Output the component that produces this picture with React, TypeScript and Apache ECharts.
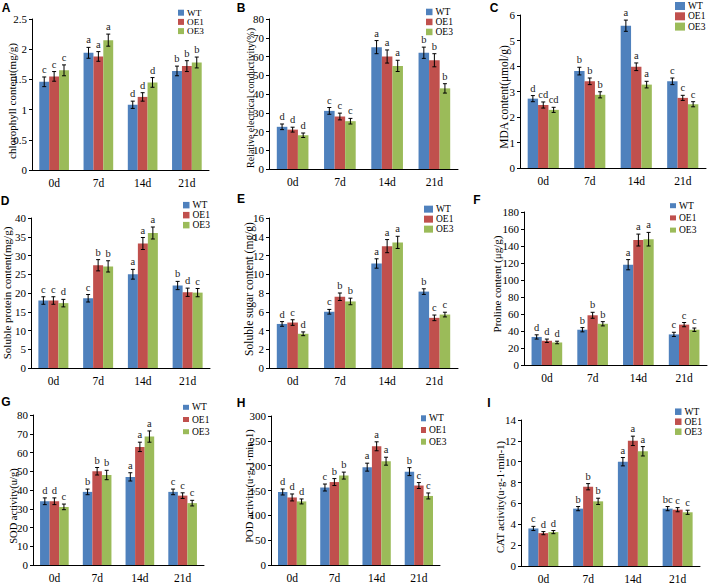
import React, { useEffect, useRef } from "react";
import * as echarts from "echarts";

const categories = ["0d", "7d", "14d", "21d"];
const lines = ["WT", "OE1", "OE3"];
const colors = ["#4F81BD", "#C0504D", "#9BBB59"];

// A chlorophyll
const chlWT = [1.46, 1.94, 1.08, 1.64];
const chlOE1 = [1.55, 1.88, 1.21, 1.72];
const chlOE3 = [1.65, 2.15, 1.45, 1.78];
const chlErr = [[0.08, 0.09, 0.06, 0.08], [0.08, 0.08, 0.07, 0.09], [0.09, 0.1, 0.08, 0.09]];
const chlSig = [["c", "a", "d", "b"], ["c", "a", "d", "b"], ["c", "a", "d", "b"]];

// B conductivity
const recWT = [22.5, 31, 65, 62];
const recOE1 = [21, 28, 60, 58];
const recOE3 = [18, 25.5, 55, 43];
const recErr = [[1.5, 1.8, 3.5, 3], [1.3, 1.8, 3.5, 3.5], [1.2, 1.5, 3, 2.5]];
const recSig = [["d", "c", "a", "b"], ["d", "c", "a", "b"], ["d", "c", "a", "b"]];

// C MDA
const mdaWT = [2.72, 3.8, 5.58, 3.4];
const mdaOE1 = [2.47, 3.4, 3.97, 2.75];
const mdaOE3 = [2.28, 2.87, 3.27, 2.5];
const mdaErr = [[0.12, 0.15, 0.22, 0.13], [0.12, 0.13, 0.15, 0.1], [0.1, 0.12, 0.13, 0.1]];
const mdaSig = [["d", "b", "a", "c"], ["cd", "b", "a", "c"], ["cd", "b", "a", "c"]];

// D soluble protein
const protWT = [18, 18.6, 25, 22];
const protOE1 = [18, 27.4, 33.2, 20.2];
const protOE3 = [17.3, 27.1, 36, 20.1];
const protErr = [[1, 1, 1.3, 1.1], [1, 1.5, 1.6, 1.1], [1, 1.5, 1.6, 1.1]];
const protSig = [["c", "c", "a", "b"], ["c", "b", "a", "d"], ["d", "b", "a", "c"]];

// E soluble sugar
const sugWT = [4.7, 6.0, 11.15, 8.15];
const sugOE1 = [4.85, 7.6, 13.0, 5.35];
const sugOE3 = [3.65, 7.1, 13.4, 5.7];
const sugErr = [[0.25, 0.25, 0.5, 0.3], [0.3, 0.4, 0.7, 0.3], [0.2, 0.35, 0.65, 0.25]];
const sugSig = [["d", "c", "a", "b"], ["c", "b", "a", "c"], ["d", "b", "a", "c"]];

// F proline
const proWT = [33, 41.5, 118, 36];
const proOE1 = [28.5, 58.5, 147, 47.5];
const proOE3 = [26.5, 48.5, 148, 41.5];
const proErr = [[2.5, 2.5, 6, 2.5], [2, 3.5, 7, 2.5], [1.5, 2.5, 8, 2]];
const proSig = [["d", "b", "a", "c"], ["d", "b", "a", "c"], ["d", "b", "a", "c"]];

// G SOD
const sodWT = [34, 39, 47, 39];
const sodOE1 = [34, 50, 63, 37];
const sodOE3 = [31, 48, 68.5, 33];
const sodErr = [[1.8, 1.5, 2.2, 1.5], [1.8, 2, 2.5, 1.5], [1.5, 2.5, 3, 1.5]];
const sodSig = [["d", "b", "a", "c"], ["d", "b", "a", "c"], ["c", "b", "a", "c"]];

// H POD
const podWT = [147, 156, 197, 188];
const podOE1 = [136, 167, 239, 160];
const podOE3 = [128, 180, 209, 139];
const podErr = [[6, 7, 8, 8], [7, 7, 9, 6], [5, 7, 8, 6]];
const podSig = [["d", "c", "a", "b"], ["d", "b", "a", "c"], ["d", "b", "a", "c"]];

// I CAT
const catWT = [3.6, 5.5, 10, 5.5];
const catOE1 = [3.15, 7.6, 12, 5.4];
const catOE3 = [3.25, 6.2, 11, 5.15];
const catErr = [[0.2, 0.2, 0.4, 0.2], [0.15, 0.3, 0.45, 0.2], [0.15, 0.3, 0.45, 0.2]];
const catSig = [["c", "b", "a", "bc"], ["d", "b", "a", "c"], ["d", "b", "a", "c"]];

const SERIF = "Liberation Serif";
const SANS = "Liberation Sans";
const GAP = 0.33;

const panels = [
  { tag: "A", tagPos: [6, 8], yName: "chlorophyll content(mg/g)", yNamePos: [12, 101], yNameSize: 11,
    values: [chlWT, chlOE1, chlOE3], errs: chlErr, sig: chlSig, max: 2.5, interval: 0.5,
    grid: { left: 32, top: 19, width: 177, height: 151 },
    legend: { left: 178, row0: 12.7, spacing: 9.2, w: 6, h: 6 } },
  { tag: "B", tagPos: [241, 8], yName: "Relative electrical conductivity(%)", yNamePos: [250, 98], yNameSize: 10,
    values: [recWT, recOE1, recOE3], errs: recErr, sig: recSig, max: 80, interval: 10,
    grid: { left: 269, top: 19, width: 189, height: 150 },
    legend: { left: 426, row0: 11.7, spacing: 9.5, w: 6.5, h: 6.5 } },
  { tag: "C", tagPos: [494, 8], yName: "MDA content(μmol/g)", yNamePos: [504, 97], yNameSize: 11.5,
    values: [mdaWT, mdaOE1, mdaOE3], errs: mdaErr, sig: mdaSig, max: 6, interval: 1,
    grid: { left: 520, top: 15, width: 186, height: 153 },
    legend: { left: 675, row0: 6, spacing: 10.3, w: 10, h: 8 } },
  { tag: "D", tagPos: [5, 201], yName: "Soluble protein content(mg/g)", yNamePos: [7, 293], yNameSize: 11,
    values: [protWT, protOE1, protOE3], errs: protErr, sig: protSig, max: 40, interval: 5,
    grid: { left: 31, top: 218, width: 179, height: 150 },
    legend: { left: 183, row0: 205, spacing: 9.7, w: 6.5, h: 6.5 } },
  { tag: "E", tagPos: [241, 199], yName: "Soluble sugar content (mg/g)", yNamePos: [249, 289], yNameSize: 11.5,
    values: [sugWT, sugOE1, sugOE3], errs: sugErr, sig: sugSig, max: 16, interval: 2,
    grid: { left: 269, top: 218, width: 189, height: 150 },
    legend: { left: 424, row0: 209, spacing: 9.7, w: 9, h: 7 } },
  { tag: "F", tagPos: [477, 200], yName: "Proline content (μg/g)", yNamePos: [497, 284], yNameSize: 11,
    values: [proWT, proOE1, proOE3], errs: proErr, sig: proSig, max: 180, interval: 20,
    grid: { left: 524, top: 212, width: 183, height: 153 },
    legend: { left: 670, row0: 205.7, spacing: 12.2, w: 6, h: 5 } },
  { tag: "G", tagPos: [6, 402], yName: "SOD activity(u/g)", yNamePos: [13, 506], yNameSize: 10.5,
    values: [sodWT, sodOE1, sodOE3], errs: sodErr, sig: sodSig, max: 80, interval: 10,
    grid: { left: 33, top: 415, width: 171, height: 150 },
    legend: { left: 183, row0: 407.3, spacing: 12.2, w: 6, h: 5 } },
  { tag: "H", tagPos: [241, 403], yName: "POD activity(u·g-1·min-1)", yNamePos: [249, 486], yNameSize: 10.5,
    values: [podWT, podOE1, podOE3], errs: podErr, sig: podSig, max: 300, interval: 50,
    grid: { left: 271, top: 416, width: 169, height: 149 },
    legend: { left: 421, row0: 418.3, spacing: 11.7, w: 5, h: 6 } },
  { tag: "I", tagPos: [489, 403], yName: "CAT activity(u·g-1·min-1)", yNamePos: [500, 497], yNameSize: 10.5,
    values: [catWT, catOE1, catOE3], errs: catErr, sig: catSig, max: 14, interval: 2,
    grid: { left: 521, top: 420, width: 179, height: 148 },
    legend: { left: 675, row0: 411.7, spacing: 10, w: 6.5, h: 6.5 } },
];

function buildOption() {
  const grid: any[] = [];
  const xAxis: any[] = [];
  const yAxis: any[] = [];
  const legend: any[] = [];
  const series: any[] = [];
  const graphic: any[] = [];

  panels.forEach((p, i) => {
    grid.push({ ...p.grid, containLabel: false });
    xAxis.push({
      type: "category", gridIndex: i, data: categories,
      axisLine: { lineStyle: { color: "#000", width: 1 } },
      axisTick: { show: true, inside: true, alignWithLabel: true, length: 3, lineStyle: { color: "#000" } },
      axisLabel: { fontFamily: SERIF, fontSize: 11.5, fontWeight: "normal", color: "#000", margin: 7 },
    });
    yAxis.push({
      type: "value", gridIndex: i, min: 0, max: p.max, interval: p.interval,
      axisLine: { show: true, lineStyle: { color: "#000", width: 1 } },
      axisTick: { show: true, length: 3, lineStyle: { color: "#000" } },
      axisLabel: { fontFamily: SERIF, fontSize: 11, fontWeight: "normal", color: "#000", margin: 5 },
      splitLine: { show: false },
    });
    const rowH = Math.min(10, Math.floor(p.legend.spacing * 10) / 10);
    const itemH = Math.min(p.legend.h, rowH);
    legend.push({
      data: lines, orient: "vertical", left: p.legend.left, top: p.legend.row0 - rowH / 2,
      itemWidth: p.legend.w, itemHeight: itemH, itemGap: Math.max(0, p.legend.spacing - rowH),
      icon: "rect", selectedMode: false, padding: 0,
      textStyle: {
        fontFamily: SERIF, fontSize: Math.min(9.5, rowH), lineHeight: rowH,
        color: "#000", padding: [0, 0, 0, -2],
      },
    });
    lines.forEach((name, s) => {
      series.push({
        type: "bar", name, xAxisIndex: i, yAxisIndex: i, data: p.values[s],
        barGap: "0%", barCategoryGap: "33%", silent: true,
        itemStyle: { color: colors[s] },
      });
    });
    const flat: number[][] = [];
    const flatSig: string[] = [];
    for (let c = 0; c < categories.length; c++) {
      for (let s = 0; s < 3; s++) {
        flat.push([c, p.values[s][c], s, p.errs[s][c]]);
        flatSig.push(p.sig[s][c]);
      }
    }
    series.push({
      type: "custom", xAxisIndex: i, yAxisIndex: i, data: flat, silent: true, z: 10,
      encode: { x: 0, y: 1 },
      renderItem: (params: any, api: any) => {
        const c = api.value(0);
        const v = api.value(1);
        const s = api.value(2);
        const e = api.value(3);
        const band = api.size([1, 0])[0];
        const bw = (band * (1 - GAP)) / 3;
        const base = api.coord([c, v]);
        const x = base[0] + (s - 1) * bw;
        const yt = api.coord([c, v + e])[1];
        const yb = api.coord([c, v - e])[1];
        const cap = 2;
        const ls = { stroke: "#000", lineWidth: 1 };
        const txt = flatSig[params.dataIndex];
        return {
          type: "group",
          children: [
            { type: "line", shape: { x1: x, y1: yt, x2: x, y2: yb }, style: ls },
            { type: "line", shape: { x1: x - cap, y1: yt, x2: x + cap, y2: yt }, style: ls },
            { type: "line", shape: { x1: x - cap, y1: yb, x2: x + cap, y2: yb }, style: ls },
            {
              type: "text",
              style: {
                text: txt, x, y: yt - 2,
                textAlign: "center", align: "center",
                textVerticalAlign: "bottom", verticalAlign: "bottom",
                font: `10.5px "${SERIF}"`, fill: "#222",
              },
            },
          ],
        };
      },
    });
    graphic.push({
      type: "text", x: p.tagPos[0], y: p.tagPos[1], silent: true,
      style: {
        text: p.tag, font: `bold 12px "${SANS}"`, fill: "#000",
        textAlign: "center", align: "center", textVerticalAlign: "middle", verticalAlign: "middle",
      },
    });
    graphic.push({
      type: "text", x: p.yNamePos[0], y: p.yNamePos[1], rotation: Math.PI / 2, silent: true,
      style: {
        text: p.yName, font: `${p.yNameSize}px "${SERIF}"`, fill: "#000",
        textAlign: "center", align: "center", textVerticalAlign: "middle", verticalAlign: "middle",
      },
    });
  });

  return {
    animation: false,
    backgroundColor: "#fff",
    textStyle: { fontFamily: SERIF },
    grid, xAxis, yAxis, legend, series, graphic,
  };
}

export default function App() {
  const ref = useRef<HTMLDivElement>(null);
  useEffect(() => {
    if (!ref.current) return;
    const chart = echarts.init(ref.current, undefined, { renderer: "svg" });
    chart.setOption(buildOption() as any);
    return () => chart.dispose();
  }, []);
  return (
    <div
      ref={ref}
      style={{ position: "absolute", left: 0, top: 0, width: 708, height: 585, background: "#fff" }}
    />
  );
}
